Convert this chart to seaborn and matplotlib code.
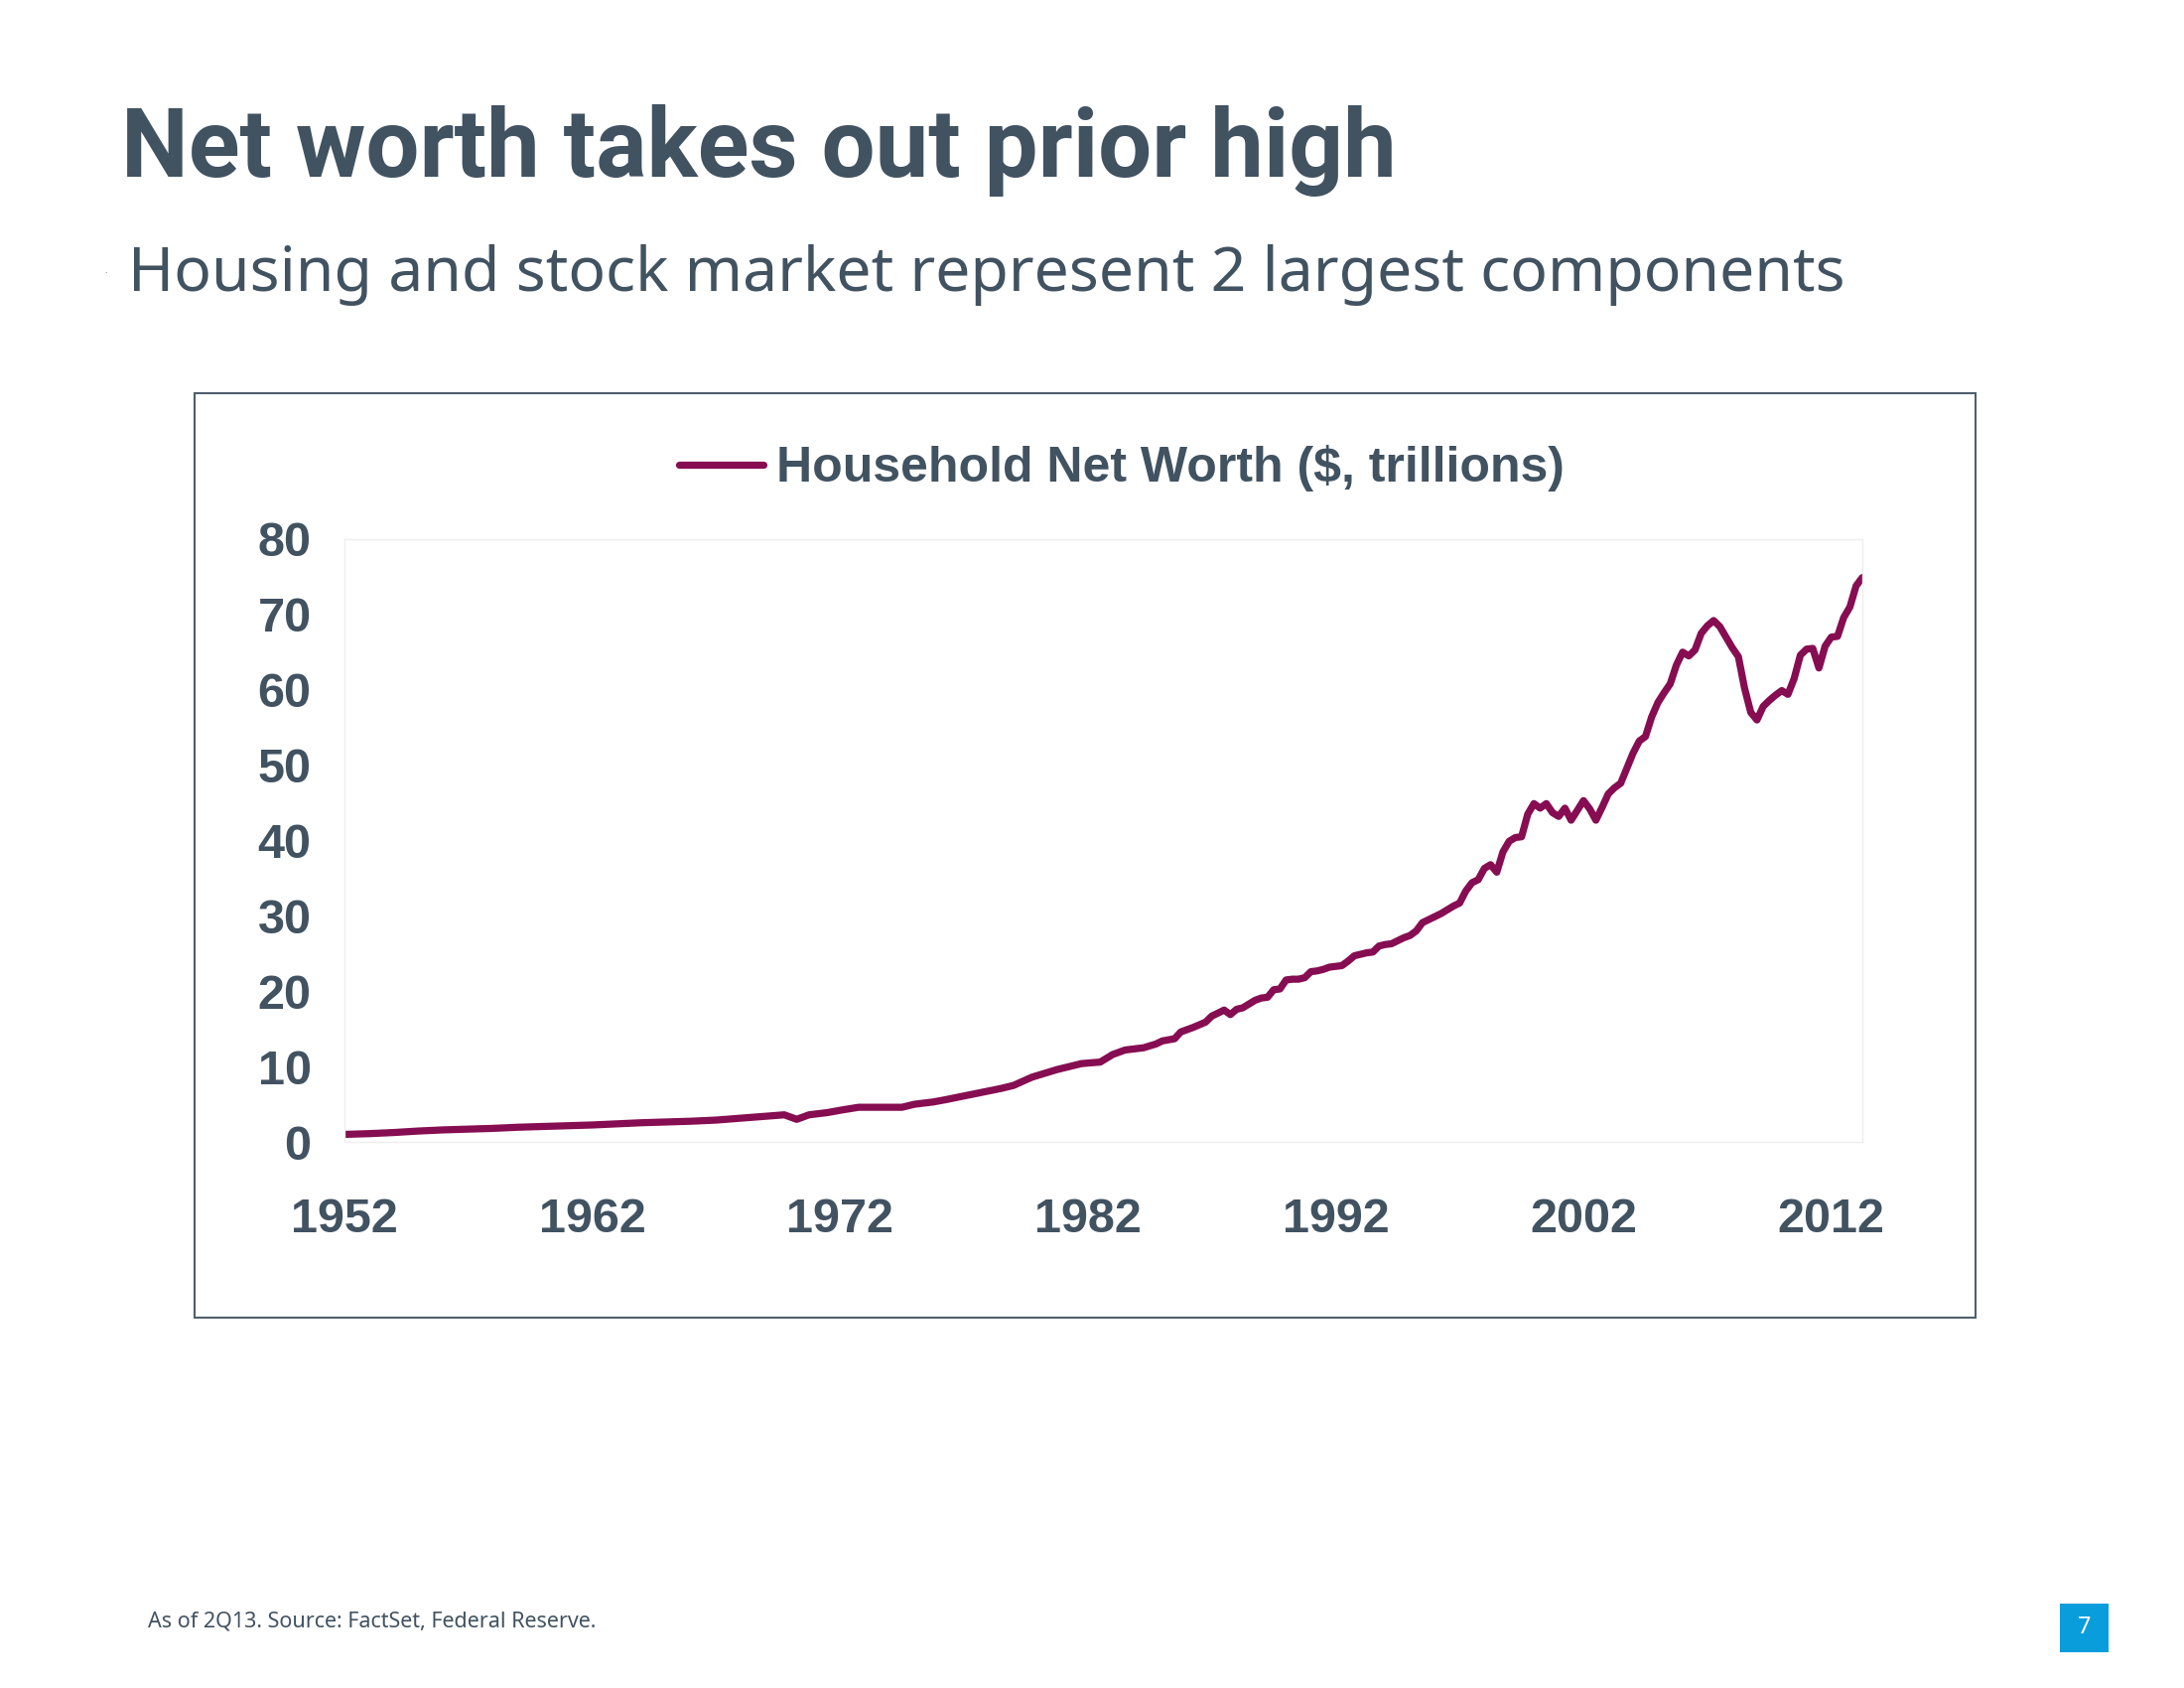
import matplotlib
matplotlib.use("Agg")
import matplotlib.pyplot as plt
import seaborn as sns
from matplotlib.patches import Rectangle

sns.set_theme(style="white")
plt.rcParams['font.family'] = ['Liberation Sans', 'DejaVu Sans']

# DATA
years = [
    1952.0, 1953.0, 1954.0, 1955.0, 1956.0, 1957.0, 1958.0, 1959.0, 1960.0,
    1961.0, 1962.0, 1963.0, 1964.0, 1965.0, 1966.0, 1967.0, 1968.0, 1969.0,
    1969.75, 1970.25, 1970.75, 1971.5, 1972.0, 1972.75, 1973.5, 1974.5,
    1975.0, 1975.75, 1976.25, 1977.0, 1977.75, 1978.5, 1979.0, 1979.75,
    1980.25, 1980.75, 1981.25, 1981.75, 1982.5, 1983.0, 1983.5, 1984.25,
    1984.75, 1985.0, 1985.5, 1985.75, 1986.25, 1986.75, 1987.0, 1987.5,
    1987.75, 1988.0, 1988.25, 1988.5, 1988.75, 1989.0, 1989.25, 1989.5,
    1989.75, 1990.0, 1990.25, 1990.5, 1990.75, 1991.0, 1991.25, 1991.5,
    1991.75, 1992.0, 1992.25, 1992.5, 1992.75, 1993.0, 1993.25, 1993.5,
    1993.75, 1994.0, 1994.25, 1994.5, 1994.75, 1995.0, 1995.25, 1995.5,
    1995.75, 1996.0, 1996.25, 1996.5, 1996.75, 1997.0, 1997.25, 1997.5,
    1997.75, 1998.0, 1998.25, 1998.5, 1998.75, 1999.0, 1999.25, 1999.5,
    1999.75, 2000.0, 2000.25, 2000.5, 2000.75, 2001.0, 2001.25, 2001.5,
    2001.75, 2002.0, 2002.25, 2002.5, 2002.75, 2003.0, 2003.25, 2003.5,
    2003.75, 2004.0, 2004.25, 2004.5, 2004.75, 2005.0, 2005.25, 2005.5,
    2005.75, 2006.0, 2006.25, 2006.5, 2006.75, 2007.0, 2007.25, 2007.5,
    2007.75, 2008.0, 2008.25, 2008.5, 2008.75, 2009.0, 2009.25, 2009.5,
    2009.75, 2010.0, 2010.25, 2010.5, 2010.75, 2011.0, 2011.25, 2011.5,
    2011.75, 2012.0, 2012.25, 2012.5, 2012.75, 2013.0, 2013.25,
]
net_worth = [
    1.0, 1.1, 1.25, 1.45, 1.6, 1.7, 1.8, 1.95, 2.05,
    2.15, 2.25, 2.4, 2.55, 2.65, 2.75, 2.9, 3.15, 3.4,
    3.6, 3.0, 3.6, 3.9, 4.2, 4.6, 4.6, 4.6,
    5.0, 5.3, 5.6, 6.1, 6.6, 7.1, 7.5, 8.6,
    9.1, 9.6, 10.0, 10.4, 10.6, 11.6, 12.2, 12.5,
    13.0, 13.4, 13.7, 14.6, 15.2, 15.9, 16.7, 17.5,
    16.9, 17.6, 17.8, 18.3, 18.8, 19.1, 19.2, 20.2,
    20.3, 21.5, 21.6, 21.6, 21.8, 22.6, 22.7, 22.9,
    23.2, 23.3, 23.4, 24.0, 24.7, 24.9, 25.1, 25.2,
    26.0, 26.2, 26.3, 26.7, 27.1, 27.4, 28.0, 29.1,
    29.5, 29.9, 30.3, 30.8, 31.3, 31.7, 33.3, 34.4,
    34.8, 36.3, 36.8, 35.8, 38.5, 39.9, 40.4, 40.5,
    43.5, 44.9, 44.3, 44.9, 43.7, 43.2, 44.3, 42.7,
    44.0, 45.3, 44.2, 42.7, 44.4, 46.2, 47.0, 47.6,
    49.6, 51.6, 53.2, 53.8, 56.4, 58.3, 59.6, 60.8,
    63.3, 65.0, 64.5, 65.3, 67.5, 68.5, 69.2, 68.4,
    67.0, 65.6, 64.4, 60.2, 57.0, 56.0, 57.8, 58.6,
    59.3, 59.9, 59.4, 61.5, 64.6, 65.4, 65.5, 62.9,
    65.8, 67.0, 67.1, 69.6, 71.0, 73.8, 74.9,
]
x_ticks = [1952, 1962, 1972, 1982, 1992, 2002, 2012]
y_ticks = [0, 10, 20, 30, 40, 50, 60, 70, 80]

TEXT = "#415261"
LINE = "#860D52"

fig = plt.figure(figsize=(22, 17), dpi=100)

# outer chart frame
fig.patches.append(Rectangle((0.0891, 0.2194), 0.8155, 0.5476, transform=fig.transFigure,
                             fill=False, edgecolor="#4f5f6d", linewidth=1.5))

ax = fig.add_axes([0.1577, 0.3235, 0.6950, 0.3571])
sns.lineplot(x=years, y=net_worth, ax=ax, color=LINE, linewidth=5.2, sort=False,
             label="Household Net Worth ($, trillions)", legend=False)

ax.set_xlim(1952, 2013.25)
ax.set_ylim(0, 80)
ax.set_xticks(x_ticks)
ax.set_yticks(y_ticks)
ax.tick_params(axis="both", length=0, labelsize=35, labelcolor=TEXT)
ax.tick_params(axis="x", pad=40)
ax.tick_params(axis="y", pad=24)
for lab in ax.get_xticklabels() + ax.get_yticklabels():
    lab.set_fontweight("bold")
for s in ax.spines.values():
    s.set_color("#eeeeee")
    s.set_linewidth(1)

handles, labels = ax.get_legend_handles_labels()
leg = fig.legend(handles, labels, loc="center", bbox_to_anchor=(0.5136, 0.7225),
                 frameon=False, handlelength=1.7, handletextpad=0.25,
                 prop={"weight": "bold", "size": 36})
for t in leg.get_texts():
    t.set_color(TEXT)

# titles
fig.text(0.0555, 0.8953, "Net worth takes out prior high", fontsize=69, fontweight="bold",
         color=TEXT, family=["Roboto", "DejaVu Sans"], va="baseline")
fig.text(0.0586, 0.8276, "Housing and stock market represent 2 largest components",
         fontsize=45, color=TEXT, family=["Noto Sans", "DejaVu Sans"], va="baseline")
fig.text(0.0477, 0.8385, ".", fontsize=6, color=TEXT)

# footer
fig.text(0.0677, 0.0359, "As of 2Q13. Source: FactSet, Federal Reserve.", fontsize=15.5,
         color=TEXT, family=["Noto Sans", "DejaVu Sans"], va="baseline")
fig.patches.append(Rectangle((0.9432, 0.0212), 0.0223, 0.0288, transform=fig.transFigure,
                             facecolor="#0A9DDC", edgecolor="none"))
fig.text(0.9543, 0.0356, "7", fontsize=17, color="white", ha="center", va="center",
         family=["Noto Sans", "DejaVu Sans"])

fig.savefig("out.png", dpi=100)
